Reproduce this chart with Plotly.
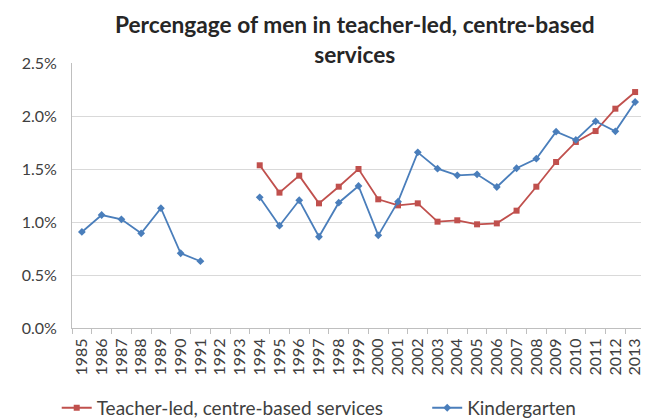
import plotly.graph_objects as go

# Years on the category axis
years = [str(y) for y in range(1985, 2014)]

# Percentage of men (None = no data)
teacher_led = [None, None, None, None, None, None, None, None, None,
               1.535, 1.277, 1.437, 1.176, 1.333, 1.50, 1.214, 1.157, 1.176,
               1.003, 1.016, 0.978, 0.987, 1.107, 1.333, 1.566, 1.755, 1.858,
               2.069, 2.226]
kindergarten = [0.906, 1.066, 1.025, 0.893, 1.13, 0.705, 0.63, None, None,
                1.233, 0.965, 1.205, 0.861, 1.182, 1.34, 0.874, 1.192, 1.657,
                1.503, 1.44, 1.45, 1.33, 1.507, 1.597, 1.852, 1.774, 1.95,
                1.855, 2.132]

y_ticks = [0.0, 0.5, 1.0, 1.5, 2.0, 2.5]

red = '#C0504D'
blue = '#4A7EBB'
font_family = 'Lato, "Open Sans", sans-serif'

fig = go.Figure()

fig.add_trace(go.Scatter(
    x=years,
    y=[v / 100 if v is not None else None for v in teacher_led],
    mode='lines+markers',
    name='Teacher-led, centre-based services',
    line=dict(color=red, width=1.8),
    marker=dict(color=red, size=6, symbol='square'),
    connectgaps=False,
    legend='legend',
))

fig.add_trace(go.Scatter(
    x=years,
    y=[v / 100 if v is not None else None for v in kindergarten],
    mode='lines+markers',
    name='Kindergarten',
    line=dict(color=blue, width=1.8),
    marker=dict(color=blue, size=6, symbol='diamond'),
    connectgaps=False,
    legend='legend2',
))

# the page body adds an 8px margin, so the figure is 8px smaller than the window
fig.update_layout(
    width=641,
    height=411,
    margin=dict(l=64, r=4, t=55, b=91),
    paper_bgcolor='white',
    plot_bgcolor='white',
    font=dict(family=font_family, color='#404040', size=15),
    title=dict(
        text='<b>Percengage of men in teacher-led, centre-based<br>services</b>',
        x=0.541,
        xanchor='center',
        xref='container',
        y=0.939,
        yanchor='middle',
        yref='container',
        font=dict(size=22.7, color='#262626', family=font_family),
    ),
    xaxis=dict(
        type='category',
        range=[-0.5, 28.5],
        tickangle=-90,
        tickfont=dict(size=16, color='#404040'),
        showgrid=False,
        showline=True,
        linecolor='#BFBFBF',
        linewidth=1,
        ticks='outside',
        ticklen=5,
        tickcolor='#BFBFBF',
        tickson='boundaries',
        ticklabelstandoff=3,
    ),
    yaxis=dict(
        range=[0, 0.025],
        tickvals=[t / 100 for t in y_ticks],
        ticktext=[f'{t:.1f}%' for t in y_ticks],
        tickfont=dict(size=16, color='#404040'),
        showgrid=True,
        gridcolor='#D9D9D9',
        gridwidth=1,
        zeroline=False,
        showline=True,
        linecolor='#BFBFBF',
        linewidth=1,
        ticks='',
        ticklabelstandoff=11,
    ),
    legend=dict(
        orientation='h',
        x=0.076,
        xref='container',
        xanchor='left',
        y=0.027,
        yref='container',
        yanchor='middle',
        font=dict(size=19, color='#404040'),
    ),
    legend2=dict(
        orientation='h',
        x=0.654,
        xref='container',
        xanchor='left',
        y=0.027,
        yref='container',
        yanchor='middle',
        font=dict(size=19, color='#404040'),
    ),
    showlegend=True,
)

fig.write_html('out.html')
